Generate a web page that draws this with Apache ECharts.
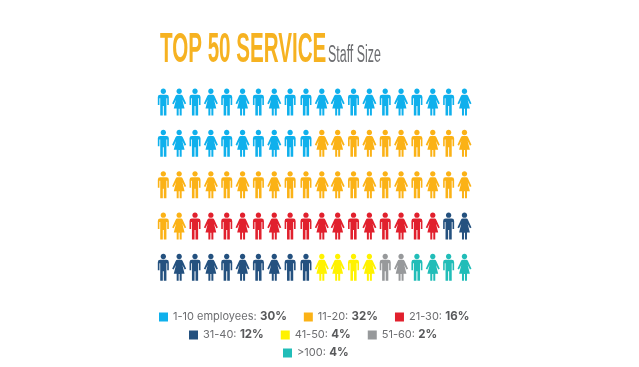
<!DOCTYPE html>
<html>
<head>
<meta charset="utf-8">
<style>
html, body { margin: 0; padding: 0; background: #fff; }
#chart { width: 639px; height: 367px; }
</style>
<script src="https://cdn.jsdelivr.net/npm/echarts@6/dist/echarts.min.js"></script>
</head>
<body>
<div id="chart"></div>
<script>
// one figure = 1%, 20 figures per row
const groups = ['1-10 employees', '11-20', '21-30', '31-40', '41-50', '51-60', '>100'];
const percents = [30, 32, 16, 12, 4, 2, 4];
const colors = ['#0fb0ec', '#fbb216', '#e1202d', '#24517f', '#fff200', '#97999b', '#21bdb8'];
const columns = ['1', '2', '3', '4', '5', '6', '7', '8', '9', '10', '11', '12', '13', '14', '15', '16', '17', '18', '19', '20'];
const rows = ['1', '2', '3', '4', '5'];
// m = man, f = woman, same order on every row
const figures = ['m', 'f', 'm', 'f', 'm', 'f', 'm', 'f', 'm', 'm', 'f', 'f', 'm', 'f', 'm', 'f', 'm', 'f', 'm', 'f'];

const manPath = 'path://M5.5 0C7 0 8.2 1.2 8.2 2.7C8.2 4.2 7 5.4 5.5 5.4C4 5.4 2.8 4.2 2.8 2.7C2.8 1.2 4 0 5.5 0ZM2.4 6.1H8.6Q11 6.1 11 8.5V16.5H9.4V9.6H8.6V27H6V17.5H5V27H2.4V9.6H1.6V16.5H0V8.5Q0 6.1 2.4 6.1Z';
const womanPath = 'path://M7 0C8.5 0 9.7 1.2 9.7 2.7C9.7 4.2 8.5 5.4 7 5.4C5.5 5.4 4.3 4.2 4.3 2.7C4.3 1.2 5.5 0 7 0ZM5.2 6.1H8.8Q10 6.1 10.6 7.5L14 15L12.5 15.8L10.2 11.2L12.4 20H9.5V27H7.5V20.2H6.5V27H4.5V20H1.6L3.8 11.2L1.5 15.8L0 15L3.4 7.5Q4 6.1 5.2 6.1Z';

let counter = 0;
let series = groups.map(function (name, g) {
    let points = [];
    for (let i = 0; i < percents[g]; i++) {
        let col = counter % columns.length;
        let row = Math.floor(counter / columns.length);
        let isMan = figures[col] === 'm';
        points.push({
            value: [col, row],
            symbol: isMan ? manPath : womanPath,
            symbolSize: isMan ? [11, 27] : [14, 27]
        });
        counter++;
    }
    return {
        name: name,
        type: 'scatter',
        itemStyle: { color: colors[g], opacity: 1 },
        data: points
    };
});

function legendRow(names, left, top) {
    return {
        data: names.map(function (n) { return { name: n, icon: 'rect' }; }),
        left: left,
        top: top,
        padding: 0,
        itemWidth: 9,
        itemHeight: 9,
        itemGap: 17,
        selectedMode: false,
        formatter: function (name) {
            return '{n|' + name + ':} {b|' + percents[groups.indexOf(name)] + '%}';
        },
        textStyle: {
            rich: {
                n: { fontFamily: 'Inter', fontSize: 11, color: '#6d6e71' },
                b: { fontFamily: 'Inter', fontSize: 11.5, fontWeight: 'bold', color: '#58595b' }
            }
        }
    };
}

let Chart1 = echarts.init(document.getElementById('chart'));
Chart1.setOption({
    animation: false,
    backgroundColor: '#ffffff',
    grid: { left: 155.4, top: 81.4, width: 317, height: 206.5 },
    xAxis: { type: 'category', data: columns, show: false },
    yAxis: { type: 'category', data: rows, inverse: true, show: false },
    legend: [
        legendRow(groups.slice(0, 3), 159, 311),
        legendRow(groups.slice(3, 6), 189, 329),
        legendRow(groups.slice(6), 283, 347)
    ],
    graphic: [
        {
            type: 'text',
            x: 160,
            y: 29,
            scaleX: 0.49,
            style: { text: 'TOP 50 SERVICE', fill: '#f6b221', font: 'bold 42px "Liberation Sans"' }
        },
        {
            type: 'text',
            x: 328,
            y: 44,
            scaleX: 0.54,
            style: { text: 'Staff Size', fill: '#6d6e71', font: '23px "Liberation Sans"' }
        }
    ],
    series: series
});
</script>
</body>
</html>
